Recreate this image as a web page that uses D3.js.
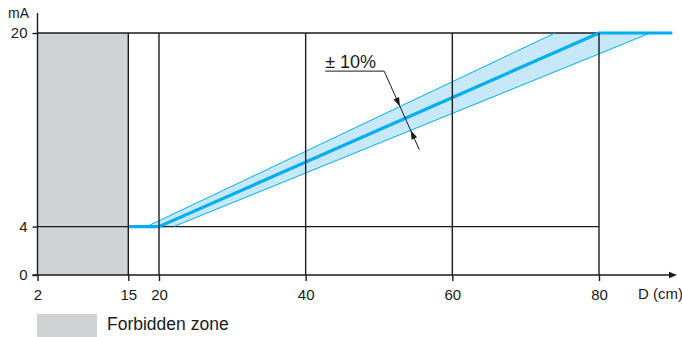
<!DOCTYPE html>
<html>
<head>
<meta charset="utf-8">
<script src="https://cdn.jsdelivr.net/npm/d3@7"></script>
<style>
  body { margin: 0; background: #fff; }
  svg { display: block; font-family: "Liberation Sans", Arial, sans-serif; }
</style>
</head>
<body>
<svg width="682" height="337"></svg>
<script>
// chart values
const xTicks = [2, 15, 20, 40, 60, 80];
const yTicks = [0, 4, 20];
const forbidden = [2, 15];
const gridX = [15, 20, 40, 60, 80];
const gridY = [4, 20];
const nominal = [[15, 4], [20, 4], [80, 20], [90, 20]];
const upperEdge = [[18, 4], [74, 20]];
const lowerEdge = [[22, 4], [87, 20]];
const tolLabel = '± 10%';
const xLabel = 'D (cm)';
const yLabel = 'mA';
const legendLabel = 'Forbidden zone';

const colorBlue = '#00aeef',
  colorBand = '#c6e8f8',
  colorGray = '#d1d2d4',
  colorInk = '#1a1a1a';

const svg = d3.select('svg');

// x axis is drawn out of scale between 2 and 20 on the original, hence the piecewise scale
const x = d3.scaleLinear()
  .domain([2, 15, 20, 80])
  .range([37.5, 128.3, 159, 599]);
const y = d3.scaleLinear()
  .domain([0, 20])
  .range([275, 33]);

const line = d3.line().x(function(d) { return x(d[0]); }).y(function(d) { return y(d[1]); });

// forbidden zone
svg.append('rect')
  .attr('x', x(forbidden[0]))
  .attr('y', y(20))
  .attr('width', x(forbidden[1]) - x(forbidden[0]))
  .attr('height', y(0) - y(20))
  .attr('fill', colorGray);

// tolerance band
const band = upperEdge.concat(lowerEdge.slice().reverse());
svg.append('path')
  .attr('d', line(band) + 'Z')
  .attr('fill', colorBand);

// horizontal grid
svg.selectAll('.gridy')
  .data(gridY)
  .enter().append('line')
    .attr('class', 'gridy')
    .attr('x1', x(2)).attr('x2', x(80))
    .attr('y1', function(d) { return y(d); })
    .attr('y2', function(d) { return y(d); })
    .attr('stroke', colorInk)
    .attr('stroke-width', 1.4);

[upperEdge, lowerEdge].forEach(function(e) {
  svg.append('path')
    .attr('d', line(e))
    .attr('fill', 'none')
    .attr('stroke', colorBlue)
    .attr('stroke-width', 1);
});

svg.append('path')
  .attr('d', line(nominal))
  .attr('fill', 'none')
  .attr('stroke', colorBlue)
  .attr('stroke-width', 3.2)
  .attr('stroke-linejoin', 'round');

// vertical grid
svg.selectAll('.gridx')
  .data(gridX)
  .enter().append('line')
    .attr('class', 'gridx')
    .attr('x1', function(d) { return x(d); })
    .attr('x2', function(d) { return x(d); })
    .attr('y1', y(0)).attr('y2', y(20))
    .attr('stroke', colorInk)
    .attr('stroke-width', 1.4);

// axes
const gx = svg.append('g')
  .attr('transform', 'translate(0,' + y(0) + ')')
  .call(d3.axisBottom(x).tickValues(xTicks).tickSize(6).tickPadding(8));
const gy = svg.append('g')
  .attr('transform', 'translate(' + x(2) + ',0)')
  .call(d3.axisLeft(y).tickValues(yTicks).tickSize(5).tickPadding(5));

[gx, gy].forEach(function(g) {
  g.select('.domain').remove();
  g.selectAll('.tick line').attr('stroke', colorInk).attr('stroke-width', 1.4);
  g.selectAll('.tick text')
    .attr('fill', colorInk)
    .style('font-size', '15px')
    .style('font-family', '"Liberation Sans", Arial, sans-serif');
});

const xEnd = 677;
svg.append('line')
  .attr('x1', x(2) - 5).attr('x2', xEnd - 4)
  .attr('y1', y(0)).attr('y2', y(0))
  .attr('stroke', colorInk).attr('stroke-width', 1.4);
svg.append('path')
  .attr('d', 'M' + xEnd + ',' + y(0) + 'l-8,-3.2v6.4Z')
  .attr('fill', colorInk);
svg.append('line')
  .attr('x1', x(2)).attr('x2', x(2))
  .attr('y1', y(0)).attr('y2', y(20) - 20)
  .attr('stroke', colorInk).attr('stroke-width', 1.4);

svg.append('text')
  .attr('x', 638).attr('y', y(0) + 24)
  .attr('fill', colorInk)
  .style('font-size', '15px')
  .text(xLabel);
svg.append('text')
  .attr('x', 29).attr('y', 18)
  .attr('text-anchor', 'end')
  .attr('fill', colorInk)
  .style('font-size', '14px')
  .text(yLabel);

// tolerance annotation
const leadA = [x(50.7), y(16.85)],
  leadB = [x(55.5), y(10.35)];

svg.append('text')
  .attr('x', leadA[0] - 59).attr('y', leadA[1] - 3)
  .attr('fill', colorInk)
  .style('font-size', '18px')
  .text(tolLabel);
svg.append('path')
  .attr('d', 'M' + (leadA[0] - 59) + ',' + leadA[1] + 'H' + leadA[0] + 'L' + leadB[0] + ',' + leadB[1])
  .attr('fill', 'none')
  .attr('stroke', colorInk)
  .attr('stroke-width', 1);

function intersect(a, b, e) {
  const p = [x(e[0][0]), y(e[0][1])], q = [x(e[1][0]), y(e[1][1])];
  const r = [b[0] - a[0], b[1] - a[1]], s = [q[0] - p[0], q[1] - p[1]];
  const den = r[0] * s[1] - r[1] * s[0];
  const t = ((p[0] - a[0]) * s[1] - (p[1] - a[1]) * s[0]) / den;
  return [a[0] + t * r[0], a[1] + t * r[1]];
}

function arrowHead(tip, dir) {
  const len = Math.hypot(dir[0], dir[1]), ux = dir[0] / len, uy = dir[1] / len;
  const L = 9, W = 3;
  const bx = tip[0] - ux * L, by = tip[1] - uy * L;
  svg.append('path')
    .attr('d', 'M' + tip[0] + ',' + tip[1] +
      'L' + (bx - uy * W) + ',' + (by + ux * W) +
      'L' + (bx + uy * W) + ',' + (by - ux * W) + 'Z')
    .attr('fill', colorInk);
}

const dirDown = [leadB[0] - leadA[0], leadB[1] - leadA[1]];
arrowHead(intersect(leadA, leadB, upperEdge), dirDown);
arrowHead(intersect(leadA, leadB, lowerEdge), [-dirDown[0], -dirDown[1]]);

// legend
svg.append('rect')
  .attr('x', 37).attr('y', 314)
  .attr('width', 60).attr('height', 23)
  .attr('fill', colorGray);
svg.append('text')
  .attr('x', 107).attr('y', 330)
  .attr('fill', colorInk)
  .style('font-size', '17.5px')
  .text(legendLabel);
</script>
</body>
</html>
